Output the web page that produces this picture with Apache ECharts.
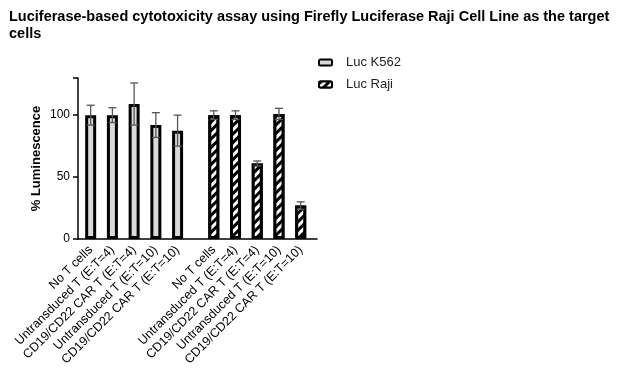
<!DOCTYPE html>
<html><head><meta charset="utf-8">
<script src="https://cdn.jsdelivr.net/npm/echarts@6/dist/echarts.min.js"></script>
<style>html,body{margin:0;padding:0;background:#fff}#c{width:621px;height:379px}</style>
</head><body><div id="c"></div>
<script>
const categories = ['No T cells','Untransduced T (E:T=4)','CD19/CD22 CAR T (E:T=4)','Untransduced T (E:T=10)','CD19/CD22 CAR T (E:T=10)'];
const seriesNames = ['Luc K562','Luc Raji'];
const k562Values = [100, 100, 109, 92, 87.5];
const k562Err = [8, 6, 17, 10, 12.5];
const rajiValues = [100, 100, 61, 101, 27];
const rajiErr = [3.5, 3.5, 2, 4.5, 3];
const yTicks = [0, 50, 100];

// build fine slot table for the category axis (gap between the two groups)
const SLOTS = 66;
const slotOf = (g, i) => 3 + 6 * i + 34 * g;
const slotNames = [], slotLabel = {};
for (let s = 0; s < SLOTS; s++) slotNames.push('s' + s);
const realSlots = new Set();
[0, 1].forEach(g => categories.forEach((c, i) => { const s = slotOf(g, i); realSlots.add(s); slotLabel['s' + s] = c; }));
function slotData(g, vals) {
  const d = new Array(SLOTS).fill('-');
  vals.forEach((v, i) => { d[slotOf(g, i)] = v; });
  return d;
}
const errData = [];
[[k562Values, k562Err, 0], [rajiValues, rajiErr, 1]].forEach(([v, e, g]) => {
  v.forEach((val, i) => errData.push([slotOf(g, i), val - e[i], val + e[i]]));
});

const chart = echarts.init(document.getElementById('c'));
const font = 'Liberation Sans, Arial, sans-serif';
chart.setOption({
  animation: false,
  textStyle: { fontFamily: font },
  title: {
    text: 'Luciferase-based cytotoxicity assay using Firefly Luciferase Raji Cell Line as the target\ncells',
    left: 4, top: 3,
    textStyle: { fontSize: 14.5, fontWeight: 'bold', color: '#000', fontFamily: font, lineHeight: 17 }
  },
  legend: {
    orient: 'vertical', left: 313, top: 51, itemWidth: 13, itemHeight: 6, itemGap: 9,
    textStyle: { fontSize: 13, color: '#222', fontFamily: font, padding: [0, 0, 0, 9] },
    data: seriesNames
  },
  grid: { left: 78, top: 78, width: 239, bottom: 140, containLabel: false },
  xAxis: {
    type: 'category', data: slotNames, boundaryGap: true,
    axisLine: { lineStyle: { color: '#000', width: 1.5 } },
    axisTick: { alignWithLabel: true, length: 5, lineStyle: { color: '#000', width: 1.5 }, interval: (idx) => realSlots.has(idx) },
    axisLabel: { interval: (idx) => realSlots.has(idx), rotate: 45, fontSize: 12.5, color: '#000', margin: 9,
      formatter: (v) => slotLabel[v] || '' }
  },
  yAxis: {
    type: 'value', min: 0, max: 130, interval: 50,
    name: '% Luminescence', nameLocation: 'middle', nameGap: 35,
    nameTextStyle: { fontSize: 13, color: '#000', fontWeight: 'bold' },
    axisLine: { show: true, lineStyle: { color: '#000', width: 1.5 } },
    axisTick: { show: true, length: 5, lineStyle: { color: '#000', width: 1.5 } },
    axisLabel: { fontSize: 12, color: '#000', margin: 8, formatter: v => yTicks.includes(v) ? String(v) : '' },
    splitLine: { show: false }
  },
  series: [
    { name: seriesNames[0], type: 'bar', data: slotData(0, k562Values), barWidth: 11, barGap: '-100%',
      itemStyle: { color: '#d9d9d9', borderColor: '#000', borderWidth: 3 } },
    { name: seriesNames[1], type: 'bar', data: slotData(1, rajiValues), barWidth: 11, barGap: '-100%',
      itemStyle: { color: '#fff', borderColor: '#000', borderWidth: 3,
        decal: { symbol: 'rect', color: '#000', backgroundColor: '#fff', dashArrayX: [1, 0], dashArrayY: [2.5, 2.5], rotation: -Math.PI / 4, symbolSize: 1 } } },
    { type: 'custom', data: errData, z: 5, silent: true,
      renderItem: (params, api) => {
        const x = api.value(0);
        const lo = api.coord([x, api.value(1)]);
        const hi = api.coord([x, api.value(2)]);
        const cx = lo[0], w = 4;
        const st = { stroke: '#555', lineWidth: 1.3 };
        return { type: 'group', children: [
          { type: 'line', shape: { x1: cx, y1: lo[1], x2: cx, y2: hi[1] }, style: st },
          { type: 'line', shape: { x1: cx - w, y1: hi[1], x2: cx + w, y2: hi[1] }, style: st },
          { type: 'line', shape: { x1: cx - w, y1: lo[1], x2: cx + w, y2: lo[1] }, style: st }
        ] };
      }
    }
  ]
});
</script></body></html>
